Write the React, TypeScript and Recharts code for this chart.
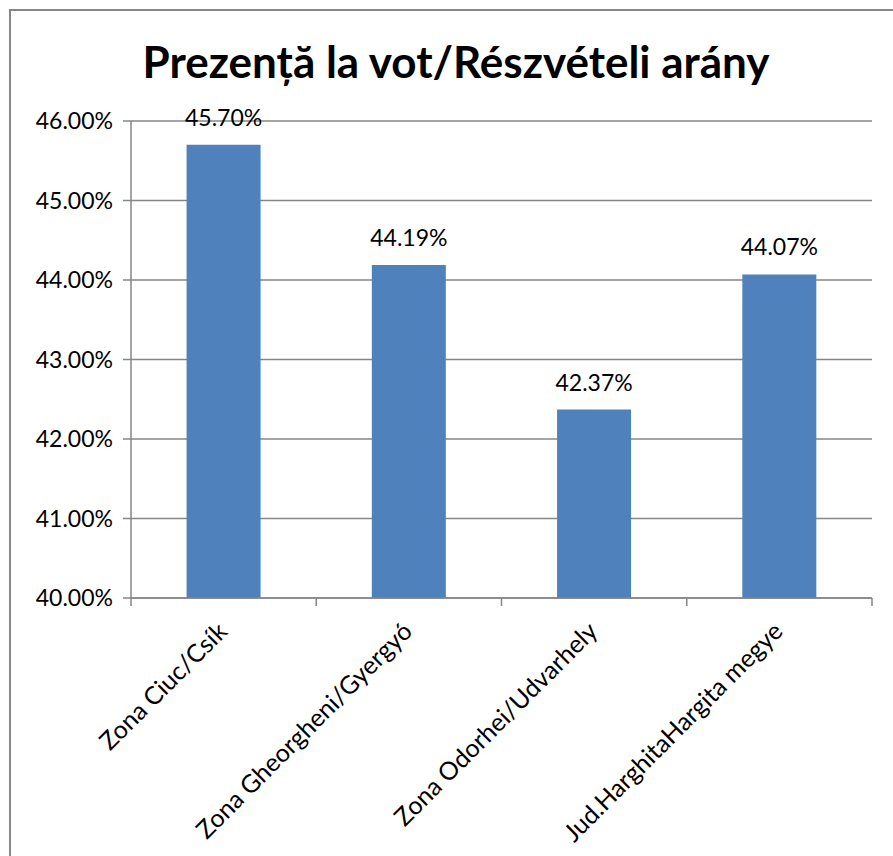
import { BarChart, Bar, XAxis, YAxis, CartesianGrid, LabelList } from "recharts";

const categories = [
  "Zona Ciuc/Csík",
  "Zona Gheorgheni/Gyergyó",
  "Zona Odorhei/Udvarhely",
  "Jud.HarghitaHargita megye",
];
const turnout = [45.7, 44.19, 42.37, 44.07];
const yTicks = [40, 41, 42, 43, 44, 45, 46];

const data = categories.map((name, i) => ({ name, value: turnout[i] }));

const FONT = "Lato, 'Open Sans', sans-serif";
const GRAY = "#868686";

const CategoryTick = (props: any) => {
  const { x, y, payload, index, visibleTicksCount } = props;
  const half = payload?.offset ?? 0;
  const isLast = index === visibleTicksCount - 1;
  const tx = x + 5;
  const ty = y + 27;
  return (
    <g>
      <line x1={x - half} x2={x - half} y1={y - 8} y2={y} stroke={GRAY} strokeWidth={1.5} />
      {isLast && (
        <line x1={x + half} x2={x + half} y1={y - 8} y2={y} stroke={GRAY} strokeWidth={1.5} />
      )}
      <text
        x={tx}
        y={ty}
        textAnchor="end"
        transform={`rotate(-45, ${tx}, ${ty})`}
        fontFamily={FONT}
        fontSize={25}
        fill="#000"
      >
        {payload.value}
      </text>
    </g>
  );
};

export default function App() {
  return (
    <div style={{ position: "absolute", left: 0, top: 0, width: 893, height: 856, background: "#fff", overflow: "hidden" }}>
      <div
        style={{
          position: "absolute",
          left: 9,
          top: 9,
          width: 920,
          height: 900,
          border: `2px solid ${GRAY}`,
          boxSizing: "border-box",
        }}
      />
      <div
        style={{
          position: "absolute",
          left: 0,
          top: 36,
          width: 912,
          textAlign: "center",
          fontFamily: FONT,
          fontWeight: 700,
          fontSize: 44,
          lineHeight: "50px",
          color: "#000",
        }}
      >
        Prezență la vot/Részvételi arány
      </div>
      <div style={{ position: "absolute", left: 0, top: 0 }}>
        <BarChart
          width={893}
          height={856}
          data={data}
          margin={{ top: 121, right: 21, bottom: 0, left: 0 }}
          barCategoryGap="30%"
        >
          <CartesianGrid vertical={false} stroke={GRAY} strokeWidth={1.5} />
          <XAxis
            dataKey="name"
            interval={0}
            tickSize={8}
            tickMargin={0}
            tickLine={false}
            axisLine={{ stroke: GRAY, strokeWidth: 1.5 }}
            tick={<CategoryTick />}
            height={258}
          />
          <YAxis
            width={131}
            domain={[40, 46]}
            ticks={yTicks}
            interval={0}
            allowDataOverflow
            tickFormatter={(v: number) => `${v.toFixed(2)}%`}
            tickSize={8}
            tickMargin={10}
            tickLine={{ stroke: GRAY, strokeWidth: 1.5 }}
            axisLine={{ stroke: GRAY, strokeWidth: 1.5 }}
            tick={{ fill: "#000", fontFamily: FONT, fontSize: 23 }}
          />
          <Bar dataKey="value" fill="#4F81BD" isAnimationActive={false}>
            <LabelList
              dataKey="value"
              position="top"
              offset={19}
              formatter={(v: any) => `${Number(v).toFixed(2)}%`}
              style={{ fill: "#000", fontFamily: FONT, fontSize: 23 }}
            />
          </Bar>
        </BarChart>
      </div>
    </div>
  );
}
